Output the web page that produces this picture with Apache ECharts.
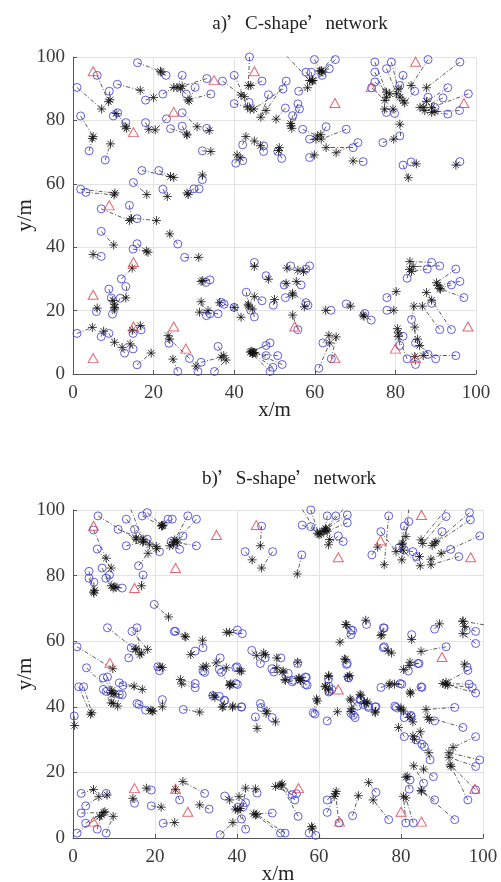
<!DOCTYPE html>
<html>
<head>
<meta charset="utf-8">
<script src="https://cdn.jsdelivr.net/npm/echarts@6/dist/echarts.min.js"></script>
<style>
html, body { margin: 0; padding: 0; background: #fff; }
#chart { width: 501px; height: 882px; }
</style>
</head>
<body>
<div id="chart"></div>
<script>
// each link: [true x, true y, estimated x, estimated y]
const linksA = [
  [1,90.4,7.1,83.6],[6,94.2,8.8,85.9],[1.9,81.4,5,74.9],[4,70.4,4.8,74.3],[9,89.2,9.2,86.5],
  [10,81.4,10.7,82.2],[11.1,82.4,12.9,78],[13.1,79.3,13.3,77.5],[11,91.4,16.7,89.5],[8,67.5,9.3,72.6],
  [16,98.2,21.7,95.5],[23.1,94.2,21.9,95.2],[18,86.4,20,87.2],[22.3,88.3,25,90.4],[27.1,94.2,25.8,90.4],
  [28.1,88.3,26.7,90],[30.3,90.4,28.8,86.1],[33.2,93.2,27.1,90.8],[34.2,88.3,28.5,86.5],[37.1,92.4,41.7,88],
  [18,79.3,18.8,77.2],[23.2,80.5,20.4,77],[24.2,77.4,28.2,75.7],[27.1,82.4,30.8,78],[27.1,78.2,28.3,75.4],
  [33.2,77.5,33.8,76.8],[32.1,70.4,34.2,70.2],[17.1,64.2,24.2,62.3],[21.3,64.2,25,62],[15,60.4,18.3,56.6],
  [32.1,61.3,32.1,62.8],[30,58.4,28.3,57.1],[31.3,58.4,28.6,56.6],[1.9,58.3,10.4,57.1],[3.2,57.3,10.2,56.5],
  [22.3,58.3,23.4,56],[40,94.2,42.5,87.5],[40,85.3,43.3,84.2],[42.1,72.3,42.9,74.9],[40.4,66.5,40.7,69.1],
  [42.1,67.3,41.5,68.2],[43.8,100,43.5,91],
  [52.9,100.5,58.7,92.6],[59.9,99.2,61.6,95.6],[64.9,100.5,61.6,95.6],[65.1,99.2,62,95.2],[63.6,96.3,61.2,95.6],
  [57.8,95.2,59.3,92.4],[59.1,95.2,59.5,92.6],[61.8,94.2,59.5,92.6],[46.9,92.4,44.1,91],[52.9,92.4,47.9,83.1],
  [52.1,89.9,44.9,83.6],[48.5,88.1,46.6,81],[56,89.2,58.2,90.3],[43.7,85.7,44,83.5],[55.8,85.2,54.1,78.3],
  [56.2,83.6,54.3,77.5],[52.7,83.9,50.4,80.4],[54.5,81.5,54,79],[57,77.2,60.7,75.1],[62.8,78,61.5,75.5],
  [67.8,77.2,61.6,74.1],[58.7,74.1,60.3,74.1],[58.7,68.3,59.9,69.1],[70.7,73,65.3,69.8],[69.5,71.4,62.8,71.4],
  [72,67,69.5,67.2],[47.3,72,45,73.5],[47.3,70.2,46.5,72],[50.8,70.2,51.2,71.4],[51.8,68,51,70.5],
  [74.9,98.4,77.8,88.9],[79,98.4,80.7,89.9],[74.9,95.2,77.8,87.3],[77.8,96.3,80.3,88.4],[81.9,94.2,81.1,87.3],
  [74.9,92.1,78.6,88.4],[74.1,90.3,77.4,86.3],[88.1,99.2,83.9,91],[96,98.4,87.7,90.3],[81.1,91,81.9,86.2],
  [84.8,89.2,82.3,85.5],[93,90.3,87.7,86],[98.1,88.4,89,84.1],[91.8,87.1,86.9,84.1],[88.1,87.3,86.1,84.1],
  [89.8,84.1,87.3,83.1],[93,82,89,82.5],[95.9,83.1,89.8,82.8],[77.8,82.5,77.3,83.6],[79.8,82.2,79.4,83.6],
  [81.1,75.1,81.1,78.8],[76.9,73,79.6,74.1],[81.9,65.9,83.2,61.9],[83.9,66.9,85.2,66.3],[96,67,95,65.9],
  [7,52.1,14,48.4],[14,53.2,14.5,49],[15.9,49,20.7,48.4],[7,45,10.1,40.7],[7,37.1,5,37.7],
  [26,41,24,44.2],[27.7,36.8,31.2,36.8],[15.9,41.1,18.6,38.4],[14.9,39.4,18.2,38.8],[12,30,14.7,33.4],
  [13.1,27.6,13.1,24],[8.9,26.8,9.9,23.2],[9.5,24,10.3,22],[11.7,23.9,10.3,20.5],[5.8,19.7,6,20.8],
  [9.8,18.9,10.3,21],[1,12.8,4.8,14.7],[7,11.8,7.6,13.5],[8.9,12.8,10.3,10],[12.8,6.6,12.2,8.4],
  [14.9,7.9,14.2,9.5],[14.9,12.8,14.7,13.8],[16.9,13.9,16.7,15.3],[15.9,2.9,19.4,6.6],[23.8,9.7,23.6,12.1],
  [28.9,4.9,24,11],[26,0.8,24.8,4.7],[31,0.8,30.5,2.5],[31.8,3.7,36.8,5.3],[35.1,0.8,38,4.4],
  [36,8.7,37.4,5.8],[43,25.8,43.5,22],[33.1,18.4,31.8,22.8],[34,19,33.5,20],[36,19,31.4,19.5],
  [34,29.7,31.8,29.2],[33,28.9,32.2,29.5],[36.8,22.6,36.4,22.5],[37.5,22,40,21],[40,21,41.7,17.9],
  [45,35.2,45,33.9],[47.9,31,48.5,29.9],[54,34.1,53.1,33.4],[58.7,34.1,57.2,32.3],[57.8,33.1,55.8,32.7],
  [52.4,28.1,52.9,28.6],[56.6,28.1,55.4,29.2],[52.7,24.1,54.5,24.9],[58.3,21.7,57.4,21.2],[57.8,22.5,54.5,25.5],
  [46.9,23.1,45,24.4],[49.7,21.7,50,23.5],[44.1,20.1,43.5,21.5],[45,18,44.5,20.5],[55.8,14,54.5,18.6],
  [64,20.1,62.7,20.1],[67.8,22.1,68.9,21.4],[74,17,72,18.6],[72.4,19.1,72.2,18.2],[62,9.8,63.5,12.2],
  [64.1,4.8,65.3,11.7],[61,1.8,63.7,9.8],[77.9,24.1,80.2,26],[77.9,20.1,79.6,20.1],[89,35.2,83.6,35.5],
  [91,34.1,84.4,33.9],[87.9,33.1,84,32.3],[82.9,30.2,83.5,33],[95,33.1,90.2,28.8],[93.9,28.1,91,27],
  [96,29.2,90.5,28],[97,24.1,91.2,26.8],[89,22.3,89,23.3],[84,17.2,84.6,21.4],[91,14,86.7,21.4],
  [93.9,14,87.7,25.7],[81.9,11.9,80.5,14.3],[81.1,9,80.7,13],[85,9.8,84.8,14.8],[82.9,4.8,80.7,11.8],
  [85,3,84.8,5.5],[88.1,6.2,85.5,11],[90,4.8,86,9],[95,5.8,86.9,5.8],
  [47.9,9,44.2,7.2],[48.9,9.8,44.5,7],[47.9,5.8,44.8,6.8],[50.8,5.8,44.5,6.5],[51.9,3,45,6.8],
  [49.6,2.1,44.6,6.4],[48.9,0.8,44,6.9]
]
const anchorsA = [
  [5,95.5],[25,82.7],[35,92.7],[45,95.5],[65,85.5],[74,90.5],[85,98.5],[97,85.5],[15,76.3],[9,53.2],
  [15,35.3],[5,25],[5,5],[15,15],[25,15],[28,8],[55,15],[65,5],[80,8],[85,5],[98,15]
]
const linksB = [
  [5,93.9,8.1,85.3],[6.1,98.2,15.4,91.1],[5.9,88.1,9.3,82.3],[3.9,81.3,5.1,74.7],[3.9,79.2,5.3,75.5],
  [5.1,78,5,75],[7.1,82.3,9.3,76.9],[8,79.2,9.8,76.2],[8.9,80.2,10.2,76.6],[12,76.2,10.5,76.4],
  [17.1,80.2,16.7,76.9],[16,83,18.3,86.8],[11,94.1,17.1,91.1],[13,97.2,18.7,89.4],[14.1,100.2,17.2,90.5],
  [15,94.1,15.4,91.5],[13,89.1,17,90.2],[16.9,98.2,21.7,95.1],[18.1,99.2,21.6,95.3],[18.1,91.1,20.3,88.9],
  [21.1,87.3,20.4,88.2],[23.2,97.2,21.8,95.2],[24.2,97.2,22,95.4],[28,98.2,24.8,90.9],[30.1,97.2,24.4,89.4],
  [26.8,92.1,25.2,90.5],[26,88,23.6,89.1],[30.1,89.1,25.5,90],[24,90.4,24.5,90.2],[19.8,71.2,23.3,67.4],
  [25,63,27.5,61.3],[8.4,64.1,15.2,57.5],[14.4,63,18.2,57.5],[15.6,64.1,16.3,55.9],[14.2,58,16.7,56.4],
  [24.7,63,27.3,61.5],[1,58.3,9.7,51.6],[31.7,58,31.6,60.3],[29.8,57,28.7,55.9],[40.1,63.4,37.4,62.7],
  [41.3,62.3,38.2,62.7],[13.6,54.9,15.4,57.7],[3.3,51.9,9.3,44.3],[7.4,48.8,9.5,45],[8.4,49.1,9.8,44],
  [11.3,47.3,14.9,46.3],[12.2,46.5,16.9,45.3],[1.4,46.1,4.3,37.7],[2.6,46.1,4.6,38.2],[7.4,45.3,9.3,41.2],
  [8.1,44.7,9.8,41],[11.3,43.8,10.9,40.2],[12,43.7,10.2,43.9],[0.3,37.2,0.4,34.3],[15.6,41,19,39],
  [17.7,39,19.5,38.7],[16.1,40.7,19.3,38.7],[21.8,42.2,21.8,40],[20.7,52.2,21.2,52.2],[29.8,47.1,26.2,48.3],
  [29.8,45.8,26.5,47],[26.9,39.2,30.9,38.4],[31.7,50.9,31.7,52.2],[35.9,54.9,34.9,53.4],[35.7,51.4,37.4,51.9],
  [40,52.2,41.1,50.9],[40.1,46.8,38.3,46.8],[35.7,43.2,34.2,43.5],[36.9,42,36.6,40],[41.1,40,39,40.2],
  [32.1,50.5,32.5,52.4],[36.2,50.5,38.2,46.5],[34.1,43.4,34.6,42.9],[37,41.9,36.4,39.9],[41.1,39.9,38.9,39.9],
  [21.1,51,21.8,52],
  [46,95.1,45.7,89.1],[48.7,87.3,46,82.3],[42,87.3,43.7,84.8],[55.8,86.3,54.7,80.5],[55.9,100.2,59.6,92.9],
  [58,100,60,92.5],[55.9,95.4,60.2,93.2],[58,94.9,60.5,92.7],[62,98.2,61.6,94.4],[64.1,98.2,61.2,93.5],
  [65.9,100.2,61.8,94],[66.9,98.5,61.4,93.8],[66.9,96.1,62,93.5],[64.7,92.1,62.3,89.4],[65.9,90.4,62.6,91],
  [77,98.2,75.9,83.3],[75.1,93.4,78.8,87.3],[72.9,86.3,74.3,88.7],[81.9,100.2,81.2,91.9],[81.9,96.5,80.4,89.9],
  [80.8,95.1,80.2,89.5],[91,100.2,84.9,90.9],[91,98,85.3,89.8],[96.7,99.2,88.2,89.9],[96.9,97,87.6,89.2],
  [90,93.4,88.5,90.3],[99.2,92.1,89.8,86.8],[92.1,88,87.3,85],[94.1,85.8,87.3,83.3],[82.9,87.3,80.5,87.8],
  [80.8,87.8,80.2,84.8],[83.8,85.8,84.5,85.8],[79.5,88.5,84.7,83],
  [43.6,57.2,44.8,55.6],[45.7,53.2,46.5,56.4],[46.9,54.9,46.9,55.9],[50.7,54.9,49.7,54.9],[48.5,51.6,49.7,51.9],
  [52.5,50.2,51.3,50.9],[53.7,48.1,51.7,48.3],[54.8,53.2,54.8,53.6],[56.7,49.1,55.1,48.8],[56.7,46.8,55.4,48.2],
  [39.7,51.9,40.7,50.9],[39.7,47.1,38.5,47],[62.3,48.5,62.3,49.5],[63.1,45.3,61.5,46.3],[62.5,44.8,62.3,45.1],
  [58.6,38.2,59.4,42.4],[66.7,52.9,66.2,54.6],[67.2,48.8,67.5,49.5],[67.8,63.4,66.5,65.1],[67.8,62,65.1,59.7],
  [68.2,63.3,66.7,65],[71.6,65.1,71.4,66.4],[75.7,64.1,75.1,61.7],[75.9,64,75.3,62],[75.7,58,76.9,57],
  [75.9,58.3,77.7,56.4],[82.6,62,82.6,60.5],[88.2,63.7,89.4,65.3],[91,58.3,84.9,56.9],[95.9,63.3,95.1,66.1],
  [98.2,63,95.5,64.5],[100.2,65,95.1,66.1],[98.2,59.3,95.1,62.3],[84.4,53.2,82.2,53.6],[84.1,53.2,82,52.6],
  [81.8,50.9,80.6,51.4],[79.8,47.1,77.3,47.1],[84.9,46.1,82.2,44.5],[70,42.2,70,43.8],[69.4,40.2,67.6,42.4],
  [70.8,40.7,71,41.5],[68.4,37.4,67.9,39.4],[72,40.2,71.5,41],[73.7,40,73.7,38.2],[78.5,40.2,80,39.7],
  [82.4,37.4,80.6,38.7],[66.9,53.2,66.5,54.4],[96.1,52.2,95.5,53],
  [49,50.6,51,50.6],[53.5,47.6,51.8,48.1],[56.9,48.9,55.1,48.6],[57.1,46.6,55.5,48],[62.4,46.3,62.4,49.3],
  [62.4,44.5,61.5,46.1],[59,37.8,59.6,41.8],[62,35.7,64.5,38.5],[67.2,48.9,67,49.2],[67.8,38,67.8,38.6],
  [68.8,36.7,67.8,42],[70.2,42.1,70.2,43.5],[72.1,39.8,71.8,41.5],[73.9,40,73.7,38.5],[75.1,45.9,77.1,46.6],
  [80.2,46.9,78.4,46.9],[85.1,45.9,82.3,44],[96.6,46.9,90.2,47.1],[97.4,45.9,91.4,46.6],[98.2,44.2,90.8,46.8],
  [96.3,51.1,91,47.5],[45.7,41,47.1,38],[45.9,39.8,47.3,38.7],[48.6,36.7,49.4,35.4],[44.5,36.9,44.9,33.4],
  [78.8,39.8,80,39.2],[80.8,36.7,82.2,36.9],[82.5,37,82.9,35.4],[93.1,39.8,86.1,39.2],[88.2,35.7,86.9,36.1],
  [95.1,33.7,86.5,36.8],[80.8,30.9,79.4,33.7],[83.7,29.9,82.9,31.1],[85.1,28.6,83.3,30.1],[85.7,27.8,84.7,32.4],
  [87.1,23.8,86.8,26],[98.2,30.9,92.7,27.6],[99.2,23.8,91.7,26],[98.2,21.8,91.7,24.6],[87.9,18.7,85.5,21],
  [85.5,16.7,83.1,22],[82.2,17.7,81.2,18.5],[82,14.9,81.5,18.8],[88.2,11.6,84.9,14.5],[81.2,4.6,80.6,12.7],
  [83,4.6,81.2,12.2],[77,5.6,73.2,11.6],[68.2,6.8,69.6,12.9],[73.9,13.9,72.1,16.9],[93.1,5.6,85,14.3],
  [96.3,11.6,92.2,21.8],[98.2,14.7,92,22.3],[62,11.6,64.2,14.2],[62,7.8,63.7,12.7],[64.9,4.6,64,13.5],
  [57.6,1.5,58.2,3.5],[59.2,0.8,58.4,3],[53.5,13.2,49.4,15.7],[54.1,11.6,51,16.5],[54.5,13.5,50.5,16],
  [54.9,6.6,50.8,16.2],[44.9,13.7,44.5,15],[48.6,7.6,44.1,7.4],[50.6,1.5,44.5,7],[51.7,1.5,44.8,7.2],
  [2,13.6,5,14.8],[3.1,9.8,6.3,12.6],[2,7.6,7.5,7.8],[3.1,4.5,7.8,8],[1,1.5,6.5,6.6],
  [5.9,2.7,7,7],[8.1,1.5,9.8,6.6],[8.1,13.6,8.3,13.1],[15,10.6,14.6,12.1],[19.1,14.6,17.9,15.2],
  [19.1,9.8,21.5,9.4],[22,4.5,24.8,4.7],[26,11.6,25,14.8],[32.1,13.6,26.8,17.2],[33.2,8.8,30.9,10.1],
  [35.9,1,39,4.7],[37,12.8,38.2,11.6],[41.1,5.8,40.2,8.5],[42.1,2.7,40.8,9],[42.1,10.8,40.5,12.6],
  [41.5,9.5,42.1,15.2],[40.2,9.4,39.6,8.8]
]
const anchorsB = [
  [5,95.2],[15,76.2],[25,82.3],[35,92.4],[44.7,95.4],[64.7,85.6],[75,90.7],[85,98.5],[97,85.6],[9,53.4],
  [90,55.2],[64.7,45.3],[15,15.2],[25,15],[28,8],[5,5],[55,15.2],[65,5],[80,8],[85,5],[98,15]
]
const titles = ['a)', 'C-shape', 'network', 'b)', 'S-shape', 'network']

const serif = '"Liberation Serif", "Times New Roman", serif'
const starPath = 'path://M5,0L5,10M0,5L10,5M1.5,1.5L8.5,8.5M1.5,8.5L8.5,1.5'

const chart = echarts.init(document.getElementById('chart'))

function axis(i, dir) {
  return {
    gridIndex: i,
    type: 'value',
    min: 0, max: 100, interval: 20,
    name: dir + '/m',
    nameLocation: 'middle',
    nameGap: dir === 'x' ? 26 : 37,
    nameMoveOverlap: false,
    nameTextStyle: { fontFamily: serif, fontSize: 21, color: '#222' },
    axisLine: { show: true, onZero: false, lineStyle: { color: '#555', width: 1 } },
    axisTick: { show: true, inside: true, length: 4, lineStyle: { color: '#555' } },
    axisLabel: { fontFamily: serif, fontSize: 19, color: '#3a3a3a', margin: dir === 'x' ? 10 : 8 },
    splitLine: { show: true, lineStyle: { color: '#e3e3e3', width: 1 } }
  }
}

function panel(i, links, anchors) {
  return [
    {
      type: 'lines', coordinateSystem: 'cartesian2d', xAxisIndex: i, yAxisIndex: i,
      silent: true,
      lineStyle: { color: '#333', width: 0.8, type: [4, 2, 1, 2], opacity: 1 },
      data: links.map(l => ({ coords: [[l[0], l[1]], [l[2], l[3]]] }))
    },
    {
      type: 'scatter', xAxisIndex: i, yAxisIndex: i, symbol: 'circle', symbolSize: 8,
      itemStyle: { color: 'transparent', borderColor: '#3a3ad8', borderWidth: 1 },
      data: links.map(l => [l[0], l[1]])
    },
    {
      type: 'scatter', xAxisIndex: i, yAxisIndex: i, symbol: starPath, symbolSize: 9,
      itemStyle: { color: 'transparent', borderColor: '#111', borderWidth: 1 },
      data: links.map(l => [l[2], l[3]])
    },
    {
      type: 'scatter', xAxisIndex: i, yAxisIndex: i, symbol: 'triangle', symbolSize: [10, 9],
      itemStyle: { color: 'transparent', borderColor: '#e0404a', borderWidth: 1 },
      data: anchors
    }
  ]
}

function titleText(a, b, c) {
  return '{t|' + a + '}{q|’}{t|' + b + '}{q|’}{t|' + c + '}'
}
const titleRich = {
  t: { fontFamily: serif, fontSize: 19, fontWeight: 'normal', color: '#222' },
  q: { fontFamily: '"Noto Sans CJK SC"', fontSize: 18, fontWeight: 'normal', color: '#222' }
}

chart.setOption({
  animation: false,
  title: [
    { text: titleText(titles[0], titles[1], titles[2]), left: 295, top: 10, textAlign: 'center',
      textStyle: { fontWeight: 'normal', rich: titleRich } },
    { text: titleText(titles[3], titles[4], titles[5]), left: 284, top: 465, textAlign: 'center',
      textStyle: { fontWeight: 'normal', rich: titleRich } }
  ],
  grid: [
    { left: 73, top: 57, width: 403, height: 317, outerBoundsMode: 'none' },
    { left: 73, top: 510, width: 410, height: 328, outerBoundsMode: 'none' }
  ],
  xAxis: [axis(0, 'x'), axis(1, 'x')],
  yAxis: [axis(0, 'y'), axis(1, 'y')],
  series: [...panel(0, linksA, anchorsA), ...panel(1, linksB, anchorsB)]
})
</script>
</body>
</html>
